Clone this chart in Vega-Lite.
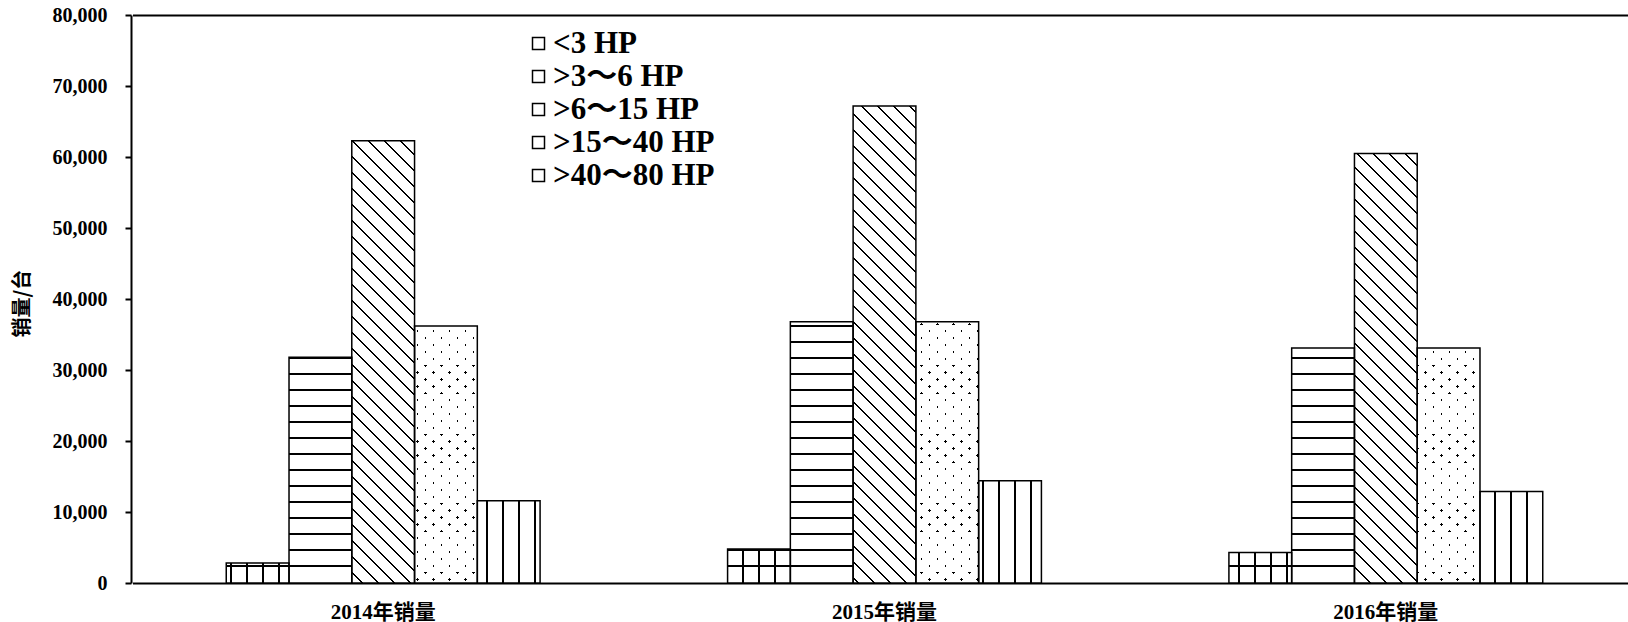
{
"$schema":"https://vega.github.io/schema/vega-lite/v6.json",
"width":1497,"height":568,
"autosize":{"type":"none"},
"padding":{"left":131,"top":15,"right":0,"bottom":39},
"config":{"view":{"stroke":null},"font":"Liberation Serif"},
"data":{"values":[
{"year":"2014年销量","cat":"<3 HP","v":2800},
{"year":"2014年销量","cat":">3～6 HP","v":31800},
{"year":"2014年销量","cat":">6～15 HP","v":62300},
{"year":"2014年销量","cat":">15～40 HP","v":36200},
{"year":"2014年销量","cat":">40～80 HP","v":11600},
{"year":"2015年销量","cat":"<3 HP","v":4800},
{"year":"2015年销量","cat":">3～6 HP","v":36800},
{"year":"2015年销量","cat":">6～15 HP","v":67200},
{"year":"2015年销量","cat":">15～40 HP","v":36800},
{"year":"2015年销量","cat":">40～80 HP","v":14400},
{"year":"2016年销量","cat":"<3 HP","v":4300},
{"year":"2016年销量","cat":">3～6 HP","v":33100},
{"year":"2016年销量","cat":">6～15 HP","v":60500},
{"year":"2016年销量","cat":">15～40 HP","v":33100},
{"year":"2016年销量","cat":">40～80 HP","v":12900}
]},
"encoding":{
"x":{"field":"year","type":"nominal","scale":{"domain":["2014年销量","2015年销量","2016年销量"],"range":[1.5,1505.5],"paddingInner":0.374,"paddingOuter":0.187},
"axis":{"title":null,"labelAngle":0,"ticks":false,"labelPadding":18,"labelFontSize":21,"labelFontWeight":"bold","labelFont":"Liberation Serif, Noto Sans CJK SC","labelColor":"black","domainColor":"black","domainWidth":2}},
"xOffset":{"field":"cat","type":"nominal","scale":{"domain":["<3 HP",">3～6 HP",">6～15 HP",">15～40 HP",">40～80 HP"]}},
"y":{"field":"v","type":"quantitative","scale":{"domain":[0,80000],"nice":false},
"axis":{"title":"销量/台","titleFont":"Noto Sans CJK SC","titleFontSize":20,"titleFontWeight":"bold","titleColor":"black","titleX":-99,"titleY":288,
"values":[0,10000,20000,30000,40000,50000,60000,70000,80000],"format":",d","labelFont":"Liberation Serif","labelFontSize":20,"labelFontWeight":"bold","labelColor":"black","labelPadding":18,"tickSize":6,"tickColor":"black","tickWidth":2,"domainColor":"black","domainWidth":2,
"grid":true,"gridColor":"black","gridWidth":2,"gridOpacity":{"condition":{"test":"datum.value === 80000","value":1},"value":0}}}
},
"layer":[
{"mark":{"type":"bar"},"encoding":{"fill":{"field":"cat","type":"nominal","scale":{"domain":["<3 HP",">3～6 HP",">6～15 HP",">15～40 HP",">40～80 HP"],"range":["white","white","white","white","white"]},
"legend":{"title":null,"orient":"none","legendX":392,"legendY":13,"symbolType":"square","symbolSize":144,"symbolStrokeColor":"black","symbolStrokeWidth":1.5,"labelFont":"Liberation Serif, Noto Sans CJK SC","labelFontSize":31,"labelFontWeight":"bold","labelColor":"black","labelOffset":-1,"rowPadding":1,"padding":0,"labelLimit":0}}}},

{"transform":[{"filter":"datum.year==='2014年销量' && datum.cat==='<3 HP'"}],"mark":{"type":"bar","fill":{"gradient":"linear","x1":-0.047,"y1":0,"x2":1.4825,"y2":0,"stops":[{"offset":0,"color":"transparent"},{"offset":0.0744,"color":"transparent"},{"offset":0.0744,"color":"black"},{"offset":0.0922,"color":"black"},{"offset":0.0922,"color":"transparent"},{"offset":0.2411,"color":"transparent"},{"offset":0.2411,"color":"black"},{"offset":0.2589,"color":"black"},{"offset":0.2589,"color":"transparent"},{"offset":0.4078,"color":"transparent"},{"offset":0.4078,"color":"black"},{"offset":0.4256,"color":"black"},{"offset":0.4256,"color":"transparent"},{"offset":0.5744,"color":"transparent"},{"offset":0.5744,"color":"black"},{"offset":0.5922,"color":"black"},{"offset":0.5922,"color":"transparent"},{"offset":0.7411,"color":"transparent"},{"offset":0.7411,"color":"black"},{"offset":0.7589,"color":"black"},{"offset":0.7589,"color":"transparent"},{"offset":0.9078,"color":"transparent"},{"offset":0.9078,"color":"black"},{"offset":0.9256,"color":"black"},{"offset":0.9256,"color":"transparent"},{"offset":1,"color":"transparent"}]}}},
{"transform":[{"filter":"datum.year==='2015年销量' && datum.cat==='<3 HP'"}],"mark":{"type":"bar","fill":{"gradient":"linear","x1":-0.1319,"y1":0,"x2":1.3976,"y2":0,"stops":[{"offset":0,"color":"transparent"},{"offset":0.0744,"color":"transparent"},{"offset":0.0744,"color":"black"},{"offset":0.0922,"color":"black"},{"offset":0.0922,"color":"transparent"},{"offset":0.2411,"color":"transparent"},{"offset":0.2411,"color":"black"},{"offset":0.2589,"color":"black"},{"offset":0.2589,"color":"transparent"},{"offset":0.4078,"color":"transparent"},{"offset":0.4078,"color":"black"},{"offset":0.4256,"color":"black"},{"offset":0.4256,"color":"transparent"},{"offset":0.5744,"color":"transparent"},{"offset":0.5744,"color":"black"},{"offset":0.5922,"color":"black"},{"offset":0.5922,"color":"transparent"},{"offset":0.7411,"color":"transparent"},{"offset":0.7411,"color":"black"},{"offset":0.7589,"color":"black"},{"offset":0.7589,"color":"transparent"},{"offset":0.9078,"color":"transparent"},{"offset":0.9078,"color":"black"},{"offset":0.9256,"color":"black"},{"offset":0.9256,"color":"transparent"},{"offset":1,"color":"transparent"}]}}},
{"transform":[{"filter":"datum.year==='2016年销量' && datum.cat==='<3 HP'"}],"mark":{"type":"bar","fill":{"gradient":"linear","x1":-0.217,"y1":0,"x2":1.3125,"y2":0,"stops":[{"offset":0,"color":"transparent"},{"offset":0.0744,"color":"transparent"},{"offset":0.0744,"color":"black"},{"offset":0.0922,"color":"black"},{"offset":0.0922,"color":"transparent"},{"offset":0.2411,"color":"transparent"},{"offset":0.2411,"color":"black"},{"offset":0.2589,"color":"black"},{"offset":0.2589,"color":"transparent"},{"offset":0.4078,"color":"transparent"},{"offset":0.4078,"color":"black"},{"offset":0.4256,"color":"black"},{"offset":0.4256,"color":"transparent"},{"offset":0.5744,"color":"transparent"},{"offset":0.5744,"color":"black"},{"offset":0.5922,"color":"black"},{"offset":0.5922,"color":"transparent"},{"offset":0.7411,"color":"transparent"},{"offset":0.7411,"color":"black"},{"offset":0.7589,"color":"black"},{"offset":0.7589,"color":"transparent"},{"offset":0.9078,"color":"transparent"},{"offset":0.9078,"color":"black"},{"offset":0.9256,"color":"black"},{"offset":0.9256,"color":"transparent"},{"offset":1,"color":"transparent"}]}}},

{"transform":[{"filter":"datum.year==='2014年销量' && datum.cat==='<3 HP'"}],"mark":{"type":"bar","fill":{"gradient":"linear","x1":0,"y1":0.54728,"x2":0,"y2":-2.67203,"stops":[{"offset":0,"color":"transparent"},{"offset":0.1117,"color":"transparent"},{"offset":0.1117,"color":"black"},{"offset":0.1383,"color":"black"},{"offset":0.1383,"color":"transparent"},{"offset":0.3617,"color":"transparent"},{"offset":0.3617,"color":"black"},{"offset":0.3883,"color":"black"},{"offset":0.3883,"color":"transparent"},{"offset":0.6117,"color":"transparent"},{"offset":0.6117,"color":"black"},{"offset":0.6383,"color":"black"},{"offset":0.6383,"color":"transparent"},{"offset":0.8617,"color":"transparent"},{"offset":0.8617,"color":"black"},{"offset":0.8883,"color":"black"},{"offset":0.8883,"color":"transparent"},{"offset":1,"color":"transparent"}]}}},
{"transform":[{"filter":"datum.year==='2015年销量' && datum.cat==='<3 HP'"}],"mark":{"type":"bar","fill":{"gradient":"linear","x1":0,"y1":0.73592,"x2":0,"y2":-1.14202,"stops":[{"offset":0,"color":"transparent"},{"offset":0.1117,"color":"transparent"},{"offset":0.1117,"color":"black"},{"offset":0.1383,"color":"black"},{"offset":0.1383,"color":"transparent"},{"offset":0.3617,"color":"transparent"},{"offset":0.3617,"color":"black"},{"offset":0.3883,"color":"black"},{"offset":0.3883,"color":"transparent"},{"offset":0.6117,"color":"transparent"},{"offset":0.6117,"color":"black"},{"offset":0.6383,"color":"black"},{"offset":0.6383,"color":"transparent"},{"offset":0.8617,"color":"transparent"},{"offset":0.8617,"color":"black"},{"offset":0.8883,"color":"black"},{"offset":0.8883,"color":"transparent"},{"offset":1,"color":"transparent"}]}}},
{"transform":[{"filter":"datum.year==='2016年销量' && datum.cat==='<3 HP'"}],"mark":{"type":"bar","fill":{"gradient":"linear","x1":0,"y1":0.70521,"x2":0,"y2":-1.39109,"stops":[{"offset":0,"color":"transparent"},{"offset":0.1117,"color":"transparent"},{"offset":0.1117,"color":"black"},{"offset":0.1383,"color":"black"},{"offset":0.1383,"color":"transparent"},{"offset":0.3617,"color":"transparent"},{"offset":0.3617,"color":"black"},{"offset":0.3883,"color":"black"},{"offset":0.3883,"color":"transparent"},{"offset":0.6117,"color":"transparent"},{"offset":0.6117,"color":"black"},{"offset":0.6383,"color":"black"},{"offset":0.6383,"color":"transparent"},{"offset":0.8617,"color":"transparent"},{"offset":0.8617,"color":"black"},{"offset":0.8883,"color":"black"},{"offset":0.8883,"color":"transparent"},{"offset":1,"color":"transparent"}]}}},

{"transform":[{"filter":"datum.year==='2014年销量' && datum.cat==='>3～6 HP'"}],"mark":{"type":"bar","fill":{"gradient":"linear","x1":0,"y1":0.96014,"x2":0,"y2":-0.31544,"stops":[{"offset":0,"color":"transparent"},{"offset":0.0248,"color":"transparent"},{"offset":0.0248,"color":"black"},{"offset":0.0308,"color":"black"},{"offset":0.0308,"color":"transparent"},{"offset":0.0803,"color":"transparent"},{"offset":0.0803,"color":"black"},{"offset":0.0863,"color":"black"},{"offset":0.0863,"color":"transparent"},{"offset":0.1359,"color":"transparent"},{"offset":0.1359,"color":"black"},{"offset":0.1419,"color":"black"},{"offset":0.1419,"color":"transparent"},{"offset":0.1914,"color":"transparent"},{"offset":0.1914,"color":"black"},{"offset":0.1974,"color":"black"},{"offset":0.1974,"color":"transparent"},{"offset":0.247,"color":"transparent"},{"offset":0.247,"color":"black"},{"offset":0.253,"color":"black"},{"offset":0.253,"color":"transparent"},{"offset":0.3026,"color":"transparent"},{"offset":0.3026,"color":"black"},{"offset":0.3086,"color":"black"},{"offset":0.3086,"color":"transparent"},{"offset":0.3581,"color":"transparent"},{"offset":0.3581,"color":"black"},{"offset":0.3641,"color":"black"},{"offset":0.3641,"color":"transparent"},{"offset":0.4137,"color":"transparent"},{"offset":0.4137,"color":"black"},{"offset":0.4197,"color":"black"},{"offset":0.4197,"color":"transparent"},{"offset":0.4692,"color":"transparent"},{"offset":0.4692,"color":"black"},{"offset":0.4752,"color":"black"},{"offset":0.4752,"color":"transparent"},{"offset":0.5248,"color":"transparent"},{"offset":0.5248,"color":"black"},{"offset":0.5308,"color":"black"},{"offset":0.5308,"color":"transparent"},{"offset":0.5803,"color":"transparent"},{"offset":0.5803,"color":"black"},{"offset":0.5863,"color":"black"},{"offset":0.5863,"color":"transparent"},{"offset":0.6359,"color":"transparent"},{"offset":0.6359,"color":"black"},{"offset":0.6419,"color":"black"},{"offset":0.6419,"color":"transparent"},{"offset":0.6914,"color":"transparent"},{"offset":0.6914,"color":"black"},{"offset":0.6974,"color":"black"},{"offset":0.6974,"color":"transparent"},{"offset":0.747,"color":"transparent"},{"offset":0.747,"color":"black"},{"offset":0.753,"color":"black"},{"offset":0.753,"color":"transparent"},{"offset":0.8026,"color":"transparent"},{"offset":0.8026,"color":"black"},{"offset":0.8086,"color":"black"},{"offset":0.8086,"color":"transparent"},{"offset":0.8581,"color":"transparent"},{"offset":0.8581,"color":"black"},{"offset":0.8641,"color":"black"},{"offset":0.8641,"color":"transparent"},{"offset":0.9137,"color":"transparent"},{"offset":0.9137,"color":"black"},{"offset":0.9197,"color":"black"},{"offset":0.9197,"color":"transparent"},{"offset":0.9692,"color":"transparent"},{"offset":0.9692,"color":"black"},{"offset":0.9752,"color":"black"},{"offset":0.9752,"color":"transparent"},{"offset":1,"color":"transparent"}]}}},
{"transform":[{"filter":"datum.year==='2015年销量' && datum.cat==='>3～6 HP'"}],"mark":{"type":"bar","fill":{"gradient":"linear","x1":0,"y1":0.96555,"x2":0,"y2":-0.13671,"stops":[{"offset":0,"color":"transparent"},{"offset":0.0248,"color":"transparent"},{"offset":0.0248,"color":"black"},{"offset":0.0308,"color":"black"},{"offset":0.0308,"color":"transparent"},{"offset":0.0803,"color":"transparent"},{"offset":0.0803,"color":"black"},{"offset":0.0863,"color":"black"},{"offset":0.0863,"color":"transparent"},{"offset":0.1359,"color":"transparent"},{"offset":0.1359,"color":"black"},{"offset":0.1419,"color":"black"},{"offset":0.1419,"color":"transparent"},{"offset":0.1914,"color":"transparent"},{"offset":0.1914,"color":"black"},{"offset":0.1974,"color":"black"},{"offset":0.1974,"color":"transparent"},{"offset":0.247,"color":"transparent"},{"offset":0.247,"color":"black"},{"offset":0.253,"color":"black"},{"offset":0.253,"color":"transparent"},{"offset":0.3026,"color":"transparent"},{"offset":0.3026,"color":"black"},{"offset":0.3086,"color":"black"},{"offset":0.3086,"color":"transparent"},{"offset":0.3581,"color":"transparent"},{"offset":0.3581,"color":"black"},{"offset":0.3641,"color":"black"},{"offset":0.3641,"color":"transparent"},{"offset":0.4137,"color":"transparent"},{"offset":0.4137,"color":"black"},{"offset":0.4197,"color":"black"},{"offset":0.4197,"color":"transparent"},{"offset":0.4692,"color":"transparent"},{"offset":0.4692,"color":"black"},{"offset":0.4752,"color":"black"},{"offset":0.4752,"color":"transparent"},{"offset":0.5248,"color":"transparent"},{"offset":0.5248,"color":"black"},{"offset":0.5308,"color":"black"},{"offset":0.5308,"color":"transparent"},{"offset":0.5803,"color":"transparent"},{"offset":0.5803,"color":"black"},{"offset":0.5863,"color":"black"},{"offset":0.5863,"color":"transparent"},{"offset":0.6359,"color":"transparent"},{"offset":0.6359,"color":"black"},{"offset":0.6419,"color":"black"},{"offset":0.6419,"color":"transparent"},{"offset":0.6914,"color":"transparent"},{"offset":0.6914,"color":"black"},{"offset":0.6974,"color":"black"},{"offset":0.6974,"color":"transparent"},{"offset":0.747,"color":"transparent"},{"offset":0.747,"color":"black"},{"offset":0.753,"color":"black"},{"offset":0.753,"color":"transparent"},{"offset":0.8026,"color":"transparent"},{"offset":0.8026,"color":"black"},{"offset":0.8086,"color":"black"},{"offset":0.8086,"color":"transparent"},{"offset":0.8581,"color":"transparent"},{"offset":0.8581,"color":"black"},{"offset":0.8641,"color":"black"},{"offset":0.8641,"color":"transparent"},{"offset":0.9137,"color":"transparent"},{"offset":0.9137,"color":"black"},{"offset":0.9197,"color":"black"},{"offset":0.9197,"color":"transparent"},{"offset":0.9692,"color":"transparent"},{"offset":0.9692,"color":"black"},{"offset":0.9752,"color":"black"},{"offset":0.9752,"color":"transparent"},{"offset":1,"color":"transparent"}]}}},
{"transform":[{"filter":"datum.year==='2016年销量' && datum.cat==='>3～6 HP'"}],"mark":{"type":"bar","fill":{"gradient":"linear","x1":0,"y1":0.9617,"x2":0,"y2":-0.26378,"stops":[{"offset":0,"color":"transparent"},{"offset":0.0248,"color":"transparent"},{"offset":0.0248,"color":"black"},{"offset":0.0308,"color":"black"},{"offset":0.0308,"color":"transparent"},{"offset":0.0803,"color":"transparent"},{"offset":0.0803,"color":"black"},{"offset":0.0863,"color":"black"},{"offset":0.0863,"color":"transparent"},{"offset":0.1359,"color":"transparent"},{"offset":0.1359,"color":"black"},{"offset":0.1419,"color":"black"},{"offset":0.1419,"color":"transparent"},{"offset":0.1914,"color":"transparent"},{"offset":0.1914,"color":"black"},{"offset":0.1974,"color":"black"},{"offset":0.1974,"color":"transparent"},{"offset":0.247,"color":"transparent"},{"offset":0.247,"color":"black"},{"offset":0.253,"color":"black"},{"offset":0.253,"color":"transparent"},{"offset":0.3026,"color":"transparent"},{"offset":0.3026,"color":"black"},{"offset":0.3086,"color":"black"},{"offset":0.3086,"color":"transparent"},{"offset":0.3581,"color":"transparent"},{"offset":0.3581,"color":"black"},{"offset":0.3641,"color":"black"},{"offset":0.3641,"color":"transparent"},{"offset":0.4137,"color":"transparent"},{"offset":0.4137,"color":"black"},{"offset":0.4197,"color":"black"},{"offset":0.4197,"color":"transparent"},{"offset":0.4692,"color":"transparent"},{"offset":0.4692,"color":"black"},{"offset":0.4752,"color":"black"},{"offset":0.4752,"color":"transparent"},{"offset":0.5248,"color":"transparent"},{"offset":0.5248,"color":"black"},{"offset":0.5308,"color":"black"},{"offset":0.5308,"color":"transparent"},{"offset":0.5803,"color":"transparent"},{"offset":0.5803,"color":"black"},{"offset":0.5863,"color":"black"},{"offset":0.5863,"color":"transparent"},{"offset":0.6359,"color":"transparent"},{"offset":0.6359,"color":"black"},{"offset":0.6419,"color":"black"},{"offset":0.6419,"color":"transparent"},{"offset":0.6914,"color":"transparent"},{"offset":0.6914,"color":"black"},{"offset":0.6974,"color":"black"},{"offset":0.6974,"color":"transparent"},{"offset":0.747,"color":"transparent"},{"offset":0.747,"color":"black"},{"offset":0.753,"color":"black"},{"offset":0.753,"color":"transparent"},{"offset":0.8026,"color":"transparent"},{"offset":0.8026,"color":"black"},{"offset":0.8086,"color":"black"},{"offset":0.8086,"color":"transparent"},{"offset":0.8581,"color":"transparent"},{"offset":0.8581,"color":"black"},{"offset":0.8641,"color":"black"},{"offset":0.8641,"color":"transparent"},{"offset":0.9137,"color":"transparent"},{"offset":0.9137,"color":"black"},{"offset":0.9197,"color":"black"},{"offset":0.9197,"color":"transparent"},{"offset":0.9692,"color":"transparent"},{"offset":0.9692,"color":"black"},{"offset":0.9752,"color":"black"},{"offset":0.9752,"color":"transparent"},{"offset":1,"color":"transparent"}]}}},

{"transform":[{"filter":"datum.year==='2014年销量' && datum.cat==='>6～15 HP'"}],"mark":{"type":"bar","fill":{"gradient":"linear","x1":0,"y1":1.03002,"x2":0.18113,"y2":-0.24648,"stops":[{"offset":0,"color":"transparent"},{"offset":0.0115,"color":"transparent"},{"offset":0.0115,"color":"black"},{"offset":0.0163,"color":"black"},{"offset":0.0163,"color":"transparent"},{"offset":0.0393,"color":"transparent"},{"offset":0.0393,"color":"black"},{"offset":0.0441,"color":"black"},{"offset":0.0441,"color":"transparent"},{"offset":0.067,"color":"transparent"},{"offset":0.067,"color":"black"},{"offset":0.0718,"color":"black"},{"offset":0.0718,"color":"transparent"},{"offset":0.0948,"color":"transparent"},{"offset":0.0948,"color":"black"},{"offset":0.0996,"color":"black"},{"offset":0.0996,"color":"transparent"},{"offset":0.1226,"color":"transparent"},{"offset":0.1226,"color":"black"},{"offset":0.1274,"color":"black"},{"offset":0.1274,"color":"transparent"},{"offset":0.1504,"color":"transparent"},{"offset":0.1504,"color":"black"},{"offset":0.1552,"color":"black"},{"offset":0.1552,"color":"transparent"},{"offset":0.1782,"color":"transparent"},{"offset":0.1782,"color":"black"},{"offset":0.183,"color":"black"},{"offset":0.183,"color":"transparent"},{"offset":0.2059,"color":"transparent"},{"offset":0.2059,"color":"black"},{"offset":0.2107,"color":"black"},{"offset":0.2107,"color":"transparent"},{"offset":0.2337,"color":"transparent"},{"offset":0.2337,"color":"black"},{"offset":0.2385,"color":"black"},{"offset":0.2385,"color":"transparent"},{"offset":0.2615,"color":"transparent"},{"offset":0.2615,"color":"black"},{"offset":0.2663,"color":"black"},{"offset":0.2663,"color":"transparent"},{"offset":0.2893,"color":"transparent"},{"offset":0.2893,"color":"black"},{"offset":0.2941,"color":"black"},{"offset":0.2941,"color":"transparent"},{"offset":0.317,"color":"transparent"},{"offset":0.317,"color":"black"},{"offset":0.3218,"color":"black"},{"offset":0.3218,"color":"transparent"},{"offset":0.3448,"color":"transparent"},{"offset":0.3448,"color":"black"},{"offset":0.3496,"color":"black"},{"offset":0.3496,"color":"transparent"},{"offset":0.3726,"color":"transparent"},{"offset":0.3726,"color":"black"},{"offset":0.3774,"color":"black"},{"offset":0.3774,"color":"transparent"},{"offset":0.4004,"color":"transparent"},{"offset":0.4004,"color":"black"},{"offset":0.4052,"color":"black"},{"offset":0.4052,"color":"transparent"},{"offset":0.4282,"color":"transparent"},{"offset":0.4282,"color":"black"},{"offset":0.433,"color":"black"},{"offset":0.433,"color":"transparent"},{"offset":0.4559,"color":"transparent"},{"offset":0.4559,"color":"black"},{"offset":0.4607,"color":"black"},{"offset":0.4607,"color":"transparent"},{"offset":0.4837,"color":"transparent"},{"offset":0.4837,"color":"black"},{"offset":0.4885,"color":"black"},{"offset":0.4885,"color":"transparent"},{"offset":0.5115,"color":"transparent"},{"offset":0.5115,"color":"black"},{"offset":0.5163,"color":"black"},{"offset":0.5163,"color":"transparent"},{"offset":0.5393,"color":"transparent"},{"offset":0.5393,"color":"black"},{"offset":0.5441,"color":"black"},{"offset":0.5441,"color":"transparent"},{"offset":0.567,"color":"transparent"},{"offset":0.567,"color":"black"},{"offset":0.5718,"color":"black"},{"offset":0.5718,"color":"transparent"},{"offset":0.5948,"color":"transparent"},{"offset":0.5948,"color":"black"},{"offset":0.5996,"color":"black"},{"offset":0.5996,"color":"transparent"},{"offset":0.6226,"color":"transparent"},{"offset":0.6226,"color":"black"},{"offset":0.6274,"color":"black"},{"offset":0.6274,"color":"transparent"},{"offset":0.6504,"color":"transparent"},{"offset":0.6504,"color":"black"},{"offset":0.6552,"color":"black"},{"offset":0.6552,"color":"transparent"},{"offset":0.6782,"color":"transparent"},{"offset":0.6782,"color":"black"},{"offset":0.683,"color":"black"},{"offset":0.683,"color":"transparent"},{"offset":0.7059,"color":"transparent"},{"offset":0.7059,"color":"black"},{"offset":0.7107,"color":"black"},{"offset":0.7107,"color":"transparent"},{"offset":0.7337,"color":"transparent"},{"offset":0.7337,"color":"black"},{"offset":0.7385,"color":"black"},{"offset":0.7385,"color":"transparent"},{"offset":0.7615,"color":"transparent"},{"offset":0.7615,"color":"black"},{"offset":0.7663,"color":"black"},{"offset":0.7663,"color":"transparent"},{"offset":0.7893,"color":"transparent"},{"offset":0.7893,"color":"black"},{"offset":0.7941,"color":"black"},{"offset":0.7941,"color":"transparent"},{"offset":0.817,"color":"transparent"},{"offset":0.817,"color":"black"},{"offset":0.8218,"color":"black"},{"offset":0.8218,"color":"transparent"},{"offset":0.8448,"color":"transparent"},{"offset":0.8448,"color":"black"},{"offset":0.8496,"color":"black"},{"offset":0.8496,"color":"transparent"},{"offset":0.8726,"color":"transparent"},{"offset":0.8726,"color":"black"},{"offset":0.8774,"color":"black"},{"offset":0.8774,"color":"transparent"},{"offset":0.9004,"color":"transparent"},{"offset":0.9004,"color":"black"},{"offset":0.9052,"color":"black"},{"offset":0.9052,"color":"transparent"},{"offset":0.9282,"color":"transparent"},{"offset":0.9282,"color":"black"},{"offset":0.933,"color":"black"},{"offset":0.933,"color":"transparent"},{"offset":0.9559,"color":"transparent"},{"offset":0.9559,"color":"black"},{"offset":0.9607,"color":"black"},{"offset":0.9607,"color":"transparent"},{"offset":0.9837,"color":"transparent"},{"offset":0.9837,"color":"black"},{"offset":0.9885,"color":"black"},{"offset":0.9885,"color":"transparent"},{"offset":1,"color":"transparent"}]}}},
{"transform":[{"filter":"datum.year==='2015年销量' && datum.cat==='>6～15 HP'"}],"mark":{"type":"bar","fill":{"gradient":"linear","x1":0,"y1":1.00549,"x2":0.15612,"y2":-0.18121,"stops":[{"offset":0,"color":"transparent"},{"offset":0.0115,"color":"transparent"},{"offset":0.0115,"color":"black"},{"offset":0.0163,"color":"black"},{"offset":0.0163,"color":"transparent"},{"offset":0.0393,"color":"transparent"},{"offset":0.0393,"color":"black"},{"offset":0.0441,"color":"black"},{"offset":0.0441,"color":"transparent"},{"offset":0.067,"color":"transparent"},{"offset":0.067,"color":"black"},{"offset":0.0718,"color":"black"},{"offset":0.0718,"color":"transparent"},{"offset":0.0948,"color":"transparent"},{"offset":0.0948,"color":"black"},{"offset":0.0996,"color":"black"},{"offset":0.0996,"color":"transparent"},{"offset":0.1226,"color":"transparent"},{"offset":0.1226,"color":"black"},{"offset":0.1274,"color":"black"},{"offset":0.1274,"color":"transparent"},{"offset":0.1504,"color":"transparent"},{"offset":0.1504,"color":"black"},{"offset":0.1552,"color":"black"},{"offset":0.1552,"color":"transparent"},{"offset":0.1782,"color":"transparent"},{"offset":0.1782,"color":"black"},{"offset":0.183,"color":"black"},{"offset":0.183,"color":"transparent"},{"offset":0.2059,"color":"transparent"},{"offset":0.2059,"color":"black"},{"offset":0.2107,"color":"black"},{"offset":0.2107,"color":"transparent"},{"offset":0.2337,"color":"transparent"},{"offset":0.2337,"color":"black"},{"offset":0.2385,"color":"black"},{"offset":0.2385,"color":"transparent"},{"offset":0.2615,"color":"transparent"},{"offset":0.2615,"color":"black"},{"offset":0.2663,"color":"black"},{"offset":0.2663,"color":"transparent"},{"offset":0.2893,"color":"transparent"},{"offset":0.2893,"color":"black"},{"offset":0.2941,"color":"black"},{"offset":0.2941,"color":"transparent"},{"offset":0.317,"color":"transparent"},{"offset":0.317,"color":"black"},{"offset":0.3218,"color":"black"},{"offset":0.3218,"color":"transparent"},{"offset":0.3448,"color":"transparent"},{"offset":0.3448,"color":"black"},{"offset":0.3496,"color":"black"},{"offset":0.3496,"color":"transparent"},{"offset":0.3726,"color":"transparent"},{"offset":0.3726,"color":"black"},{"offset":0.3774,"color":"black"},{"offset":0.3774,"color":"transparent"},{"offset":0.4004,"color":"transparent"},{"offset":0.4004,"color":"black"},{"offset":0.4052,"color":"black"},{"offset":0.4052,"color":"transparent"},{"offset":0.4282,"color":"transparent"},{"offset":0.4282,"color":"black"},{"offset":0.433,"color":"black"},{"offset":0.433,"color":"transparent"},{"offset":0.4559,"color":"transparent"},{"offset":0.4559,"color":"black"},{"offset":0.4607,"color":"black"},{"offset":0.4607,"color":"transparent"},{"offset":0.4837,"color":"transparent"},{"offset":0.4837,"color":"black"},{"offset":0.4885,"color":"black"},{"offset":0.4885,"color":"transparent"},{"offset":0.5115,"color":"transparent"},{"offset":0.5115,"color":"black"},{"offset":0.5163,"color":"black"},{"offset":0.5163,"color":"transparent"},{"offset":0.5393,"color":"transparent"},{"offset":0.5393,"color":"black"},{"offset":0.5441,"color":"black"},{"offset":0.5441,"color":"transparent"},{"offset":0.567,"color":"transparent"},{"offset":0.567,"color":"black"},{"offset":0.5718,"color":"black"},{"offset":0.5718,"color":"transparent"},{"offset":0.5948,"color":"transparent"},{"offset":0.5948,"color":"black"},{"offset":0.5996,"color":"black"},{"offset":0.5996,"color":"transparent"},{"offset":0.6226,"color":"transparent"},{"offset":0.6226,"color":"black"},{"offset":0.6274,"color":"black"},{"offset":0.6274,"color":"transparent"},{"offset":0.6504,"color":"transparent"},{"offset":0.6504,"color":"black"},{"offset":0.6552,"color":"black"},{"offset":0.6552,"color":"transparent"},{"offset":0.6782,"color":"transparent"},{"offset":0.6782,"color":"black"},{"offset":0.683,"color":"black"},{"offset":0.683,"color":"transparent"},{"offset":0.7059,"color":"transparent"},{"offset":0.7059,"color":"black"},{"offset":0.7107,"color":"black"},{"offset":0.7107,"color":"transparent"},{"offset":0.7337,"color":"transparent"},{"offset":0.7337,"color":"black"},{"offset":0.7385,"color":"black"},{"offset":0.7385,"color":"transparent"},{"offset":0.7615,"color":"transparent"},{"offset":0.7615,"color":"black"},{"offset":0.7663,"color":"black"},{"offset":0.7663,"color":"transparent"},{"offset":0.7893,"color":"transparent"},{"offset":0.7893,"color":"black"},{"offset":0.7941,"color":"black"},{"offset":0.7941,"color":"transparent"},{"offset":0.817,"color":"transparent"},{"offset":0.817,"color":"black"},{"offset":0.8218,"color":"black"},{"offset":0.8218,"color":"transparent"},{"offset":0.8448,"color":"transparent"},{"offset":0.8448,"color":"black"},{"offset":0.8496,"color":"black"},{"offset":0.8496,"color":"transparent"},{"offset":0.8726,"color":"transparent"},{"offset":0.8726,"color":"black"},{"offset":0.8774,"color":"black"},{"offset":0.8774,"color":"transparent"},{"offset":0.9004,"color":"transparent"},{"offset":0.9004,"color":"black"},{"offset":0.9052,"color":"black"},{"offset":0.9052,"color":"transparent"},{"offset":0.9282,"color":"transparent"},{"offset":0.9282,"color":"black"},{"offset":0.933,"color":"black"},{"offset":0.933,"color":"transparent"},{"offset":0.9559,"color":"transparent"},{"offset":0.9559,"color":"black"},{"offset":0.9607,"color":"black"},{"offset":0.9607,"color":"transparent"},{"offset":0.9837,"color":"transparent"},{"offset":0.9837,"color":"black"},{"offset":0.9885,"color":"black"},{"offset":0.9885,"color":"transparent"},{"offset":1,"color":"transparent"}]}}},
{"transform":[{"filter":"datum.year==='2016年销量' && datum.cat==='>6～15 HP'"}],"mark":{"type":"bar","fill":{"gradient":"linear","x1":0,"y1":1.01851,"x2":0.19185,"y2":-0.29441,"stops":[{"offset":0,"color":"transparent"},{"offset":0.0115,"color":"transparent"},{"offset":0.0115,"color":"black"},{"offset":0.0163,"color":"black"},{"offset":0.0163,"color":"transparent"},{"offset":0.0393,"color":"transparent"},{"offset":0.0393,"color":"black"},{"offset":0.0441,"color":"black"},{"offset":0.0441,"color":"transparent"},{"offset":0.067,"color":"transparent"},{"offset":0.067,"color":"black"},{"offset":0.0718,"color":"black"},{"offset":0.0718,"color":"transparent"},{"offset":0.0948,"color":"transparent"},{"offset":0.0948,"color":"black"},{"offset":0.0996,"color":"black"},{"offset":0.0996,"color":"transparent"},{"offset":0.1226,"color":"transparent"},{"offset":0.1226,"color":"black"},{"offset":0.1274,"color":"black"},{"offset":0.1274,"color":"transparent"},{"offset":0.1504,"color":"transparent"},{"offset":0.1504,"color":"black"},{"offset":0.1552,"color":"black"},{"offset":0.1552,"color":"transparent"},{"offset":0.1782,"color":"transparent"},{"offset":0.1782,"color":"black"},{"offset":0.183,"color":"black"},{"offset":0.183,"color":"transparent"},{"offset":0.2059,"color":"transparent"},{"offset":0.2059,"color":"black"},{"offset":0.2107,"color":"black"},{"offset":0.2107,"color":"transparent"},{"offset":0.2337,"color":"transparent"},{"offset":0.2337,"color":"black"},{"offset":0.2385,"color":"black"},{"offset":0.2385,"color":"transparent"},{"offset":0.2615,"color":"transparent"},{"offset":0.2615,"color":"black"},{"offset":0.2663,"color":"black"},{"offset":0.2663,"color":"transparent"},{"offset":0.2893,"color":"transparent"},{"offset":0.2893,"color":"black"},{"offset":0.2941,"color":"black"},{"offset":0.2941,"color":"transparent"},{"offset":0.317,"color":"transparent"},{"offset":0.317,"color":"black"},{"offset":0.3218,"color":"black"},{"offset":0.3218,"color":"transparent"},{"offset":0.3448,"color":"transparent"},{"offset":0.3448,"color":"black"},{"offset":0.3496,"color":"black"},{"offset":0.3496,"color":"transparent"},{"offset":0.3726,"color":"transparent"},{"offset":0.3726,"color":"black"},{"offset":0.3774,"color":"black"},{"offset":0.3774,"color":"transparent"},{"offset":0.4004,"color":"transparent"},{"offset":0.4004,"color":"black"},{"offset":0.4052,"color":"black"},{"offset":0.4052,"color":"transparent"},{"offset":0.4282,"color":"transparent"},{"offset":0.4282,"color":"black"},{"offset":0.433,"color":"black"},{"offset":0.433,"color":"transparent"},{"offset":0.4559,"color":"transparent"},{"offset":0.4559,"color":"black"},{"offset":0.4607,"color":"black"},{"offset":0.4607,"color":"transparent"},{"offset":0.4837,"color":"transparent"},{"offset":0.4837,"color":"black"},{"offset":0.4885,"color":"black"},{"offset":0.4885,"color":"transparent"},{"offset":0.5115,"color":"transparent"},{"offset":0.5115,"color":"black"},{"offset":0.5163,"color":"black"},{"offset":0.5163,"color":"transparent"},{"offset":0.5393,"color":"transparent"},{"offset":0.5393,"color":"black"},{"offset":0.5441,"color":"black"},{"offset":0.5441,"color":"transparent"},{"offset":0.567,"color":"transparent"},{"offset":0.567,"color":"black"},{"offset":0.5718,"color":"black"},{"offset":0.5718,"color":"transparent"},{"offset":0.5948,"color":"transparent"},{"offset":0.5948,"color":"black"},{"offset":0.5996,"color":"black"},{"offset":0.5996,"color":"transparent"},{"offset":0.6226,"color":"transparent"},{"offset":0.6226,"color":"black"},{"offset":0.6274,"color":"black"},{"offset":0.6274,"color":"transparent"},{"offset":0.6504,"color":"transparent"},{"offset":0.6504,"color":"black"},{"offset":0.6552,"color":"black"},{"offset":0.6552,"color":"transparent"},{"offset":0.6782,"color":"transparent"},{"offset":0.6782,"color":"black"},{"offset":0.683,"color":"black"},{"offset":0.683,"color":"transparent"},{"offset":0.7059,"color":"transparent"},{"offset":0.7059,"color":"black"},{"offset":0.7107,"color":"black"},{"offset":0.7107,"color":"transparent"},{"offset":0.7337,"color":"transparent"},{"offset":0.7337,"color":"black"},{"offset":0.7385,"color":"black"},{"offset":0.7385,"color":"transparent"},{"offset":0.7615,"color":"transparent"},{"offset":0.7615,"color":"black"},{"offset":0.7663,"color":"black"},{"offset":0.7663,"color":"transparent"},{"offset":0.7893,"color":"transparent"},{"offset":0.7893,"color":"black"},{"offset":0.7941,"color":"black"},{"offset":0.7941,"color":"transparent"},{"offset":0.817,"color":"transparent"},{"offset":0.817,"color":"black"},{"offset":0.8218,"color":"black"},{"offset":0.8218,"color":"transparent"},{"offset":0.8448,"color":"transparent"},{"offset":0.8448,"color":"black"},{"offset":0.8496,"color":"black"},{"offset":0.8496,"color":"transparent"},{"offset":0.8726,"color":"transparent"},{"offset":0.8726,"color":"black"},{"offset":0.8774,"color":"black"},{"offset":0.8774,"color":"transparent"},{"offset":0.9004,"color":"transparent"},{"offset":0.9004,"color":"black"},{"offset":0.9052,"color":"black"},{"offset":0.9052,"color":"transparent"},{"offset":0.9282,"color":"transparent"},{"offset":0.9282,"color":"black"},{"offset":0.933,"color":"black"},{"offset":0.933,"color":"transparent"},{"offset":0.9559,"color":"transparent"},{"offset":0.9559,"color":"black"},{"offset":0.9607,"color":"black"},{"offset":0.9607,"color":"transparent"},{"offset":0.9837,"color":"transparent"},{"offset":0.9837,"color":"black"},{"offset":0.9885,"color":"black"},{"offset":0.9885,"color":"transparent"},{"offset":1,"color":"transparent"}]}}},

{"transform":[{"filter":"datum.year==='2014年销量' && datum.cat==='>15～40 HP'"}],"mark":{"type":"bar","fill":{"gradient":"linear","x1":0,"y1":1.00377,"x2":0.27073,"y2":-0.28154,"stops":[{"offset":0,"color":"transparent"},{"offset":0.0167,"color":"transparent"},{"offset":0.0167,"color":"black"},{"offset":0.0233,"color":"black"},{"offset":0.0233,"color":"transparent"},{"offset":0.0567,"color":"transparent"},{"offset":0.0567,"color":"black"},{"offset":0.0633,"color":"black"},{"offset":0.0633,"color":"transparent"},{"offset":0.0967,"color":"transparent"},{"offset":0.0967,"color":"black"},{"offset":0.1033,"color":"black"},{"offset":0.1033,"color":"transparent"},{"offset":0.1367,"color":"transparent"},{"offset":0.1367,"color":"black"},{"offset":0.1433,"color":"black"},{"offset":0.1433,"color":"transparent"},{"offset":0.1767,"color":"transparent"},{"offset":0.1767,"color":"black"},{"offset":0.1833,"color":"black"},{"offset":0.1833,"color":"transparent"},{"offset":0.2167,"color":"transparent"},{"offset":0.2167,"color":"black"},{"offset":0.2233,"color":"black"},{"offset":0.2233,"color":"transparent"},{"offset":0.2567,"color":"transparent"},{"offset":0.2567,"color":"black"},{"offset":0.2633,"color":"black"},{"offset":0.2633,"color":"transparent"},{"offset":0.2967,"color":"transparent"},{"offset":0.2967,"color":"black"},{"offset":0.3033,"color":"black"},{"offset":0.3033,"color":"transparent"},{"offset":0.3367,"color":"transparent"},{"offset":0.3367,"color":"black"},{"offset":0.3433,"color":"black"},{"offset":0.3433,"color":"transparent"},{"offset":0.3767,"color":"transparent"},{"offset":0.3767,"color":"black"},{"offset":0.3833,"color":"black"},{"offset":0.3833,"color":"transparent"},{"offset":0.4167,"color":"transparent"},{"offset":0.4167,"color":"black"},{"offset":0.4233,"color":"black"},{"offset":0.4233,"color":"transparent"},{"offset":0.4567,"color":"transparent"},{"offset":0.4567,"color":"black"},{"offset":0.4633,"color":"black"},{"offset":0.4633,"color":"transparent"},{"offset":0.4967,"color":"transparent"},{"offset":0.4967,"color":"black"},{"offset":0.5033,"color":"black"},{"offset":0.5033,"color":"transparent"},{"offset":0.5367,"color":"transparent"},{"offset":0.5367,"color":"black"},{"offset":0.5433,"color":"black"},{"offset":0.5433,"color":"transparent"},{"offset":0.5767,"color":"transparent"},{"offset":0.5767,"color":"black"},{"offset":0.5833,"color":"black"},{"offset":0.5833,"color":"transparent"},{"offset":0.6167,"color":"transparent"},{"offset":0.6167,"color":"black"},{"offset":0.6233,"color":"black"},{"offset":0.6233,"color":"transparent"},{"offset":0.6567,"color":"transparent"},{"offset":0.6567,"color":"black"},{"offset":0.6633,"color":"black"},{"offset":0.6633,"color":"transparent"},{"offset":0.6967,"color":"transparent"},{"offset":0.6967,"color":"black"},{"offset":0.7033,"color":"black"},{"offset":0.7033,"color":"transparent"},{"offset":0.7367,"color":"transparent"},{"offset":0.7367,"color":"black"},{"offset":0.7433,"color":"black"},{"offset":0.7433,"color":"transparent"},{"offset":0.7767,"color":"transparent"},{"offset":0.7767,"color":"black"},{"offset":0.7833,"color":"black"},{"offset":0.7833,"color":"transparent"},{"offset":0.8167,"color":"transparent"},{"offset":0.8167,"color":"black"},{"offset":0.8233,"color":"black"},{"offset":0.8233,"color":"transparent"},{"offset":0.8567,"color":"transparent"},{"offset":0.8567,"color":"black"},{"offset":0.8633,"color":"black"},{"offset":0.8633,"color":"transparent"},{"offset":0.8967,"color":"transparent"},{"offset":0.8967,"color":"black"},{"offset":0.9033,"color":"black"},{"offset":0.9033,"color":"transparent"},{"offset":0.9367,"color":"transparent"},{"offset":0.9367,"color":"black"},{"offset":0.9433,"color":"black"},{"offset":0.9433,"color":"transparent"},{"offset":0.9767,"color":"transparent"},{"offset":0.9767,"color":"black"},{"offset":0.9833,"color":"black"},{"offset":0.9833,"color":"transparent"},{"offset":1,"color":"transparent"}]}}},
{"transform":[{"filter":"datum.year==='2015年销量' && datum.cat==='>15～40 HP'"}],"mark":{"type":"bar","fill":{"gradient":"linear","x1":0,"y1":1.02128,"x2":0.26234,"y2":-0.24481,"stops":[{"offset":0,"color":"transparent"},{"offset":0.0167,"color":"transparent"},{"offset":0.0167,"color":"black"},{"offset":0.0233,"color":"black"},{"offset":0.0233,"color":"transparent"},{"offset":0.0567,"color":"transparent"},{"offset":0.0567,"color":"black"},{"offset":0.0633,"color":"black"},{"offset":0.0633,"color":"transparent"},{"offset":0.0967,"color":"transparent"},{"offset":0.0967,"color":"black"},{"offset":0.1033,"color":"black"},{"offset":0.1033,"color":"transparent"},{"offset":0.1367,"color":"transparent"},{"offset":0.1367,"color":"black"},{"offset":0.1433,"color":"black"},{"offset":0.1433,"color":"transparent"},{"offset":0.1767,"color":"transparent"},{"offset":0.1767,"color":"black"},{"offset":0.1833,"color":"black"},{"offset":0.1833,"color":"transparent"},{"offset":0.2167,"color":"transparent"},{"offset":0.2167,"color":"black"},{"offset":0.2233,"color":"black"},{"offset":0.2233,"color":"transparent"},{"offset":0.2567,"color":"transparent"},{"offset":0.2567,"color":"black"},{"offset":0.2633,"color":"black"},{"offset":0.2633,"color":"transparent"},{"offset":0.2967,"color":"transparent"},{"offset":0.2967,"color":"black"},{"offset":0.3033,"color":"black"},{"offset":0.3033,"color":"transparent"},{"offset":0.3367,"color":"transparent"},{"offset":0.3367,"color":"black"},{"offset":0.3433,"color":"black"},{"offset":0.3433,"color":"transparent"},{"offset":0.3767,"color":"transparent"},{"offset":0.3767,"color":"black"},{"offset":0.3833,"color":"black"},{"offset":0.3833,"color":"transparent"},{"offset":0.4167,"color":"transparent"},{"offset":0.4167,"color":"black"},{"offset":0.4233,"color":"black"},{"offset":0.4233,"color":"transparent"},{"offset":0.4567,"color":"transparent"},{"offset":0.4567,"color":"black"},{"offset":0.4633,"color":"black"},{"offset":0.4633,"color":"transparent"},{"offset":0.4967,"color":"transparent"},{"offset":0.4967,"color":"black"},{"offset":0.5033,"color":"black"},{"offset":0.5033,"color":"transparent"},{"offset":0.5367,"color":"transparent"},{"offset":0.5367,"color":"black"},{"offset":0.5433,"color":"black"},{"offset":0.5433,"color":"transparent"},{"offset":0.5767,"color":"transparent"},{"offset":0.5767,"color":"black"},{"offset":0.5833,"color":"black"},{"offset":0.5833,"color":"transparent"},{"offset":0.6167,"color":"transparent"},{"offset":0.6167,"color":"black"},{"offset":0.6233,"color":"black"},{"offset":0.6233,"color":"transparent"},{"offset":0.6567,"color":"transparent"},{"offset":0.6567,"color":"black"},{"offset":0.6633,"color":"black"},{"offset":0.6633,"color":"transparent"},{"offset":0.6967,"color":"transparent"},{"offset":0.6967,"color":"black"},{"offset":0.7033,"color":"black"},{"offset":0.7033,"color":"transparent"},{"offset":0.7367,"color":"transparent"},{"offset":0.7367,"color":"black"},{"offset":0.7433,"color":"black"},{"offset":0.7433,"color":"transparent"},{"offset":0.7767,"color":"transparent"},{"offset":0.7767,"color":"black"},{"offset":0.7833,"color":"black"},{"offset":0.7833,"color":"transparent"},{"offset":0.8167,"color":"transparent"},{"offset":0.8167,"color":"black"},{"offset":0.8233,"color":"black"},{"offset":0.8233,"color":"transparent"},{"offset":0.8567,"color":"transparent"},{"offset":0.8567,"color":"black"},{"offset":0.8633,"color":"black"},{"offset":0.8633,"color":"transparent"},{"offset":0.8967,"color":"transparent"},{"offset":0.8967,"color":"black"},{"offset":0.9033,"color":"black"},{"offset":0.9033,"color":"transparent"},{"offset":0.9367,"color":"transparent"},{"offset":0.9367,"color":"black"},{"offset":0.9433,"color":"black"},{"offset":0.9433,"color":"transparent"},{"offset":0.9767,"color":"transparent"},{"offset":0.9767,"color":"black"},{"offset":0.9833,"color":"black"},{"offset":0.9833,"color":"transparent"},{"offset":1,"color":"transparent"}]}}},
{"transform":[{"filter":"datum.year==='2016年销量' && datum.cat==='>15～40 HP'"}],"mark":{"type":"bar","fill":{"gradient":"linear","x1":0,"y1":1.04327,"x2":0.32115,"y2":-0.35083,"stops":[{"offset":0,"color":"transparent"},{"offset":0.0167,"color":"transparent"},{"offset":0.0167,"color":"black"},{"offset":0.0233,"color":"black"},{"offset":0.0233,"color":"transparent"},{"offset":0.0567,"color":"transparent"},{"offset":0.0567,"color":"black"},{"offset":0.0633,"color":"black"},{"offset":0.0633,"color":"transparent"},{"offset":0.0967,"color":"transparent"},{"offset":0.0967,"color":"black"},{"offset":0.1033,"color":"black"},{"offset":0.1033,"color":"transparent"},{"offset":0.1367,"color":"transparent"},{"offset":0.1367,"color":"black"},{"offset":0.1433,"color":"black"},{"offset":0.1433,"color":"transparent"},{"offset":0.1767,"color":"transparent"},{"offset":0.1767,"color":"black"},{"offset":0.1833,"color":"black"},{"offset":0.1833,"color":"transparent"},{"offset":0.2167,"color":"transparent"},{"offset":0.2167,"color":"black"},{"offset":0.2233,"color":"black"},{"offset":0.2233,"color":"transparent"},{"offset":0.2567,"color":"transparent"},{"offset":0.2567,"color":"black"},{"offset":0.2633,"color":"black"},{"offset":0.2633,"color":"transparent"},{"offset":0.2967,"color":"transparent"},{"offset":0.2967,"color":"black"},{"offset":0.3033,"color":"black"},{"offset":0.3033,"color":"transparent"},{"offset":0.3367,"color":"transparent"},{"offset":0.3367,"color":"black"},{"offset":0.3433,"color":"black"},{"offset":0.3433,"color":"transparent"},{"offset":0.3767,"color":"transparent"},{"offset":0.3767,"color":"black"},{"offset":0.3833,"color":"black"},{"offset":0.3833,"color":"transparent"},{"offset":0.4167,"color":"transparent"},{"offset":0.4167,"color":"black"},{"offset":0.4233,"color":"black"},{"offset":0.4233,"color":"transparent"},{"offset":0.4567,"color":"transparent"},{"offset":0.4567,"color":"black"},{"offset":0.4633,"color":"black"},{"offset":0.4633,"color":"transparent"},{"offset":0.4967,"color":"transparent"},{"offset":0.4967,"color":"black"},{"offset":0.5033,"color":"black"},{"offset":0.5033,"color":"transparent"},{"offset":0.5367,"color":"transparent"},{"offset":0.5367,"color":"black"},{"offset":0.5433,"color":"black"},{"offset":0.5433,"color":"transparent"},{"offset":0.5767,"color":"transparent"},{"offset":0.5767,"color":"black"},{"offset":0.5833,"color":"black"},{"offset":0.5833,"color":"transparent"},{"offset":0.6167,"color":"transparent"},{"offset":0.6167,"color":"black"},{"offset":0.6233,"color":"black"},{"offset":0.6233,"color":"transparent"},{"offset":0.6567,"color":"transparent"},{"offset":0.6567,"color":"black"},{"offset":0.6633,"color":"black"},{"offset":0.6633,"color":"transparent"},{"offset":0.6967,"color":"transparent"},{"offset":0.6967,"color":"black"},{"offset":0.7033,"color":"black"},{"offset":0.7033,"color":"transparent"},{"offset":0.7367,"color":"transparent"},{"offset":0.7367,"color":"black"},{"offset":0.7433,"color":"black"},{"offset":0.7433,"color":"transparent"},{"offset":0.7767,"color":"transparent"},{"offset":0.7767,"color":"black"},{"offset":0.7833,"color":"black"},{"offset":0.7833,"color":"transparent"},{"offset":0.8167,"color":"transparent"},{"offset":0.8167,"color":"black"},{"offset":0.8233,"color":"black"},{"offset":0.8233,"color":"transparent"},{"offset":0.8567,"color":"transparent"},{"offset":0.8567,"color":"black"},{"offset":0.8633,"color":"black"},{"offset":0.8633,"color":"transparent"},{"offset":0.8967,"color":"transparent"},{"offset":0.8967,"color":"black"},{"offset":0.9033,"color":"black"},{"offset":0.9033,"color":"transparent"},{"offset":0.9367,"color":"transparent"},{"offset":0.9367,"color":"black"},{"offset":0.9433,"color":"black"},{"offset":0.9433,"color":"transparent"},{"offset":0.9767,"color":"transparent"},{"offset":0.9767,"color":"black"},{"offset":0.9833,"color":"black"},{"offset":0.9833,"color":"transparent"},{"offset":1,"color":"transparent"}]}}},

{"transform":[{"filter":"datum.year==='2014年销量' && datum.cat==='>15～40 HP'"}],"mark":{"type":"bar","fill":{"gradient":"linear","x1":0,"y1":-0.05031,"x2":0.27073,"y2":1.235,"stops":[{"offset":0,"color":"white"},{"offset":0.0167,"color":"white"},{"offset":0.0167,"color":"transparent"},{"offset":0.0233,"color":"transparent"},{"offset":0.0233,"color":"white"},{"offset":0.0567,"color":"white"},{"offset":0.0567,"color":"transparent"},{"offset":0.0633,"color":"transparent"},{"offset":0.0633,"color":"white"},{"offset":0.0967,"color":"white"},{"offset":0.0967,"color":"transparent"},{"offset":0.1033,"color":"transparent"},{"offset":0.1033,"color":"white"},{"offset":0.1367,"color":"white"},{"offset":0.1367,"color":"transparent"},{"offset":0.1433,"color":"transparent"},{"offset":0.1433,"color":"white"},{"offset":0.1767,"color":"white"},{"offset":0.1767,"color":"transparent"},{"offset":0.1833,"color":"transparent"},{"offset":0.1833,"color":"white"},{"offset":0.2167,"color":"white"},{"offset":0.2167,"color":"transparent"},{"offset":0.2233,"color":"transparent"},{"offset":0.2233,"color":"white"},{"offset":0.2567,"color":"white"},{"offset":0.2567,"color":"transparent"},{"offset":0.2633,"color":"transparent"},{"offset":0.2633,"color":"white"},{"offset":0.2967,"color":"white"},{"offset":0.2967,"color":"transparent"},{"offset":0.3033,"color":"transparent"},{"offset":0.3033,"color":"white"},{"offset":0.3367,"color":"white"},{"offset":0.3367,"color":"transparent"},{"offset":0.3433,"color":"transparent"},{"offset":0.3433,"color":"white"},{"offset":0.3767,"color":"white"},{"offset":0.3767,"color":"transparent"},{"offset":0.3833,"color":"transparent"},{"offset":0.3833,"color":"white"},{"offset":0.4167,"color":"white"},{"offset":0.4167,"color":"transparent"},{"offset":0.4233,"color":"transparent"},{"offset":0.4233,"color":"white"},{"offset":0.4567,"color":"white"},{"offset":0.4567,"color":"transparent"},{"offset":0.4633,"color":"transparent"},{"offset":0.4633,"color":"white"},{"offset":0.4967,"color":"white"},{"offset":0.4967,"color":"transparent"},{"offset":0.5033,"color":"transparent"},{"offset":0.5033,"color":"white"},{"offset":0.5367,"color":"white"},{"offset":0.5367,"color":"transparent"},{"offset":0.5433,"color":"transparent"},{"offset":0.5433,"color":"white"},{"offset":0.5767,"color":"white"},{"offset":0.5767,"color":"transparent"},{"offset":0.5833,"color":"transparent"},{"offset":0.5833,"color":"white"},{"offset":0.6167,"color":"white"},{"offset":0.6167,"color":"transparent"},{"offset":0.6233,"color":"transparent"},{"offset":0.6233,"color":"white"},{"offset":0.6567,"color":"white"},{"offset":0.6567,"color":"transparent"},{"offset":0.6633,"color":"transparent"},{"offset":0.6633,"color":"white"},{"offset":0.6967,"color":"white"},{"offset":0.6967,"color":"transparent"},{"offset":0.7033,"color":"transparent"},{"offset":0.7033,"color":"white"},{"offset":0.7367,"color":"white"},{"offset":0.7367,"color":"transparent"},{"offset":0.7433,"color":"transparent"},{"offset":0.7433,"color":"white"},{"offset":0.7767,"color":"white"},{"offset":0.7767,"color":"transparent"},{"offset":0.7833,"color":"transparent"},{"offset":0.7833,"color":"white"},{"offset":0.8167,"color":"white"},{"offset":0.8167,"color":"transparent"},{"offset":0.8233,"color":"transparent"},{"offset":0.8233,"color":"white"},{"offset":0.8567,"color":"white"},{"offset":0.8567,"color":"transparent"},{"offset":0.8633,"color":"transparent"},{"offset":0.8633,"color":"white"},{"offset":0.8967,"color":"white"},{"offset":0.8967,"color":"transparent"},{"offset":0.9033,"color":"transparent"},{"offset":0.9033,"color":"white"},{"offset":0.9367,"color":"white"},{"offset":0.9367,"color":"transparent"},{"offset":0.9433,"color":"transparent"},{"offset":0.9433,"color":"white"},{"offset":0.9767,"color":"white"},{"offset":0.9767,"color":"transparent"},{"offset":0.9833,"color":"transparent"},{"offset":0.9833,"color":"white"},{"offset":1,"color":"white"}]}}},
{"transform":[{"filter":"datum.year==='2015年销量' && datum.cat==='>15～40 HP'"}],"mark":{"type":"bar","fill":{"gradient":"linear","x1":0,"y1":-0.05079,"x2":0.26234,"y2":1.2153,"stops":[{"offset":0,"color":"white"},{"offset":0.0167,"color":"white"},{"offset":0.0167,"color":"transparent"},{"offset":0.0233,"color":"transparent"},{"offset":0.0233,"color":"white"},{"offset":0.0567,"color":"white"},{"offset":0.0567,"color":"transparent"},{"offset":0.0633,"color":"transparent"},{"offset":0.0633,"color":"white"},{"offset":0.0967,"color":"white"},{"offset":0.0967,"color":"transparent"},{"offset":0.1033,"color":"transparent"},{"offset":0.1033,"color":"white"},{"offset":0.1367,"color":"white"},{"offset":0.1367,"color":"transparent"},{"offset":0.1433,"color":"transparent"},{"offset":0.1433,"color":"white"},{"offset":0.1767,"color":"white"},{"offset":0.1767,"color":"transparent"},{"offset":0.1833,"color":"transparent"},{"offset":0.1833,"color":"white"},{"offset":0.2167,"color":"white"},{"offset":0.2167,"color":"transparent"},{"offset":0.2233,"color":"transparent"},{"offset":0.2233,"color":"white"},{"offset":0.2567,"color":"white"},{"offset":0.2567,"color":"transparent"},{"offset":0.2633,"color":"transparent"},{"offset":0.2633,"color":"white"},{"offset":0.2967,"color":"white"},{"offset":0.2967,"color":"transparent"},{"offset":0.3033,"color":"transparent"},{"offset":0.3033,"color":"white"},{"offset":0.3367,"color":"white"},{"offset":0.3367,"color":"transparent"},{"offset":0.3433,"color":"transparent"},{"offset":0.3433,"color":"white"},{"offset":0.3767,"color":"white"},{"offset":0.3767,"color":"transparent"},{"offset":0.3833,"color":"transparent"},{"offset":0.3833,"color":"white"},{"offset":0.4167,"color":"white"},{"offset":0.4167,"color":"transparent"},{"offset":0.4233,"color":"transparent"},{"offset":0.4233,"color":"white"},{"offset":0.4567,"color":"white"},{"offset":0.4567,"color":"transparent"},{"offset":0.4633,"color":"transparent"},{"offset":0.4633,"color":"white"},{"offset":0.4967,"color":"white"},{"offset":0.4967,"color":"transparent"},{"offset":0.5033,"color":"transparent"},{"offset":0.5033,"color":"white"},{"offset":0.5367,"color":"white"},{"offset":0.5367,"color":"transparent"},{"offset":0.5433,"color":"transparent"},{"offset":0.5433,"color":"white"},{"offset":0.5767,"color":"white"},{"offset":0.5767,"color":"transparent"},{"offset":0.5833,"color":"transparent"},{"offset":0.5833,"color":"white"},{"offset":0.6167,"color":"white"},{"offset":0.6167,"color":"transparent"},{"offset":0.6233,"color":"transparent"},{"offset":0.6233,"color":"white"},{"offset":0.6567,"color":"white"},{"offset":0.6567,"color":"transparent"},{"offset":0.6633,"color":"transparent"},{"offset":0.6633,"color":"white"},{"offset":0.6967,"color":"white"},{"offset":0.6967,"color":"transparent"},{"offset":0.7033,"color":"transparent"},{"offset":0.7033,"color":"white"},{"offset":0.7367,"color":"white"},{"offset":0.7367,"color":"transparent"},{"offset":0.7433,"color":"transparent"},{"offset":0.7433,"color":"white"},{"offset":0.7767,"color":"white"},{"offset":0.7767,"color":"transparent"},{"offset":0.7833,"color":"transparent"},{"offset":0.7833,"color":"white"},{"offset":0.8167,"color":"white"},{"offset":0.8167,"color":"transparent"},{"offset":0.8233,"color":"transparent"},{"offset":0.8233,"color":"white"},{"offset":0.8567,"color":"white"},{"offset":0.8567,"color":"transparent"},{"offset":0.8633,"color":"transparent"},{"offset":0.8633,"color":"white"},{"offset":0.8967,"color":"white"},{"offset":0.8967,"color":"transparent"},{"offset":0.9033,"color":"transparent"},{"offset":0.9033,"color":"white"},{"offset":0.9367,"color":"white"},{"offset":0.9367,"color":"transparent"},{"offset":0.9433,"color":"transparent"},{"offset":0.9433,"color":"white"},{"offset":0.9767,"color":"white"},{"offset":0.9767,"color":"transparent"},{"offset":0.9833,"color":"transparent"},{"offset":0.9833,"color":"white"},{"offset":1,"color":"white"}]}}},
{"transform":[{"filter":"datum.year==='2016年销量' && datum.cat==='>15～40 HP'"}],"mark":{"type":"bar","fill":{"gradient":"linear","x1":0,"y1":-0.01166,"x2":0.32115,"y2":1.38244,"stops":[{"offset":0,"color":"white"},{"offset":0.0167,"color":"white"},{"offset":0.0167,"color":"transparent"},{"offset":0.0233,"color":"transparent"},{"offset":0.0233,"color":"white"},{"offset":0.0567,"color":"white"},{"offset":0.0567,"color":"transparent"},{"offset":0.0633,"color":"transparent"},{"offset":0.0633,"color":"white"},{"offset":0.0967,"color":"white"},{"offset":0.0967,"color":"transparent"},{"offset":0.1033,"color":"transparent"},{"offset":0.1033,"color":"white"},{"offset":0.1367,"color":"white"},{"offset":0.1367,"color":"transparent"},{"offset":0.1433,"color":"transparent"},{"offset":0.1433,"color":"white"},{"offset":0.1767,"color":"white"},{"offset":0.1767,"color":"transparent"},{"offset":0.1833,"color":"transparent"},{"offset":0.1833,"color":"white"},{"offset":0.2167,"color":"white"},{"offset":0.2167,"color":"transparent"},{"offset":0.2233,"color":"transparent"},{"offset":0.2233,"color":"white"},{"offset":0.2567,"color":"white"},{"offset":0.2567,"color":"transparent"},{"offset":0.2633,"color":"transparent"},{"offset":0.2633,"color":"white"},{"offset":0.2967,"color":"white"},{"offset":0.2967,"color":"transparent"},{"offset":0.3033,"color":"transparent"},{"offset":0.3033,"color":"white"},{"offset":0.3367,"color":"white"},{"offset":0.3367,"color":"transparent"},{"offset":0.3433,"color":"transparent"},{"offset":0.3433,"color":"white"},{"offset":0.3767,"color":"white"},{"offset":0.3767,"color":"transparent"},{"offset":0.3833,"color":"transparent"},{"offset":0.3833,"color":"white"},{"offset":0.4167,"color":"white"},{"offset":0.4167,"color":"transparent"},{"offset":0.4233,"color":"transparent"},{"offset":0.4233,"color":"white"},{"offset":0.4567,"color":"white"},{"offset":0.4567,"color":"transparent"},{"offset":0.4633,"color":"transparent"},{"offset":0.4633,"color":"white"},{"offset":0.4967,"color":"white"},{"offset":0.4967,"color":"transparent"},{"offset":0.5033,"color":"transparent"},{"offset":0.5033,"color":"white"},{"offset":0.5367,"color":"white"},{"offset":0.5367,"color":"transparent"},{"offset":0.5433,"color":"transparent"},{"offset":0.5433,"color":"white"},{"offset":0.5767,"color":"white"},{"offset":0.5767,"color":"transparent"},{"offset":0.5833,"color":"transparent"},{"offset":0.5833,"color":"white"},{"offset":0.6167,"color":"white"},{"offset":0.6167,"color":"transparent"},{"offset":0.6233,"color":"transparent"},{"offset":0.6233,"color":"white"},{"offset":0.6567,"color":"white"},{"offset":0.6567,"color":"transparent"},{"offset":0.6633,"color":"transparent"},{"offset":0.6633,"color":"white"},{"offset":0.6967,"color":"white"},{"offset":0.6967,"color":"transparent"},{"offset":0.7033,"color":"transparent"},{"offset":0.7033,"color":"white"},{"offset":0.7367,"color":"white"},{"offset":0.7367,"color":"transparent"},{"offset":0.7433,"color":"transparent"},{"offset":0.7433,"color":"white"},{"offset":0.7767,"color":"white"},{"offset":0.7767,"color":"transparent"},{"offset":0.7833,"color":"transparent"},{"offset":0.7833,"color":"white"},{"offset":0.8167,"color":"white"},{"offset":0.8167,"color":"transparent"},{"offset":0.8233,"color":"transparent"},{"offset":0.8233,"color":"white"},{"offset":0.8567,"color":"white"},{"offset":0.8567,"color":"transparent"},{"offset":0.8633,"color":"transparent"},{"offset":0.8633,"color":"white"},{"offset":0.8967,"color":"white"},{"offset":0.8967,"color":"transparent"},{"offset":0.9033,"color":"transparent"},{"offset":0.9033,"color":"white"},{"offset":0.9367,"color":"white"},{"offset":0.9367,"color":"transparent"},{"offset":0.9433,"color":"transparent"},{"offset":0.9433,"color":"white"},{"offset":0.9767,"color":"white"},{"offset":0.9767,"color":"transparent"},{"offset":0.9833,"color":"transparent"},{"offset":0.9833,"color":"white"},{"offset":1,"color":"white"}]}}},

{"transform":[{"filter":"datum.year==='2014年销量' && datum.cat==='>40～80 HP'"}],"mark":{"type":"bar","fill":{"gradient":"linear","x1":-0.2234,"y1":0,"x2":1.3061,"y2":0,"stops":[{"offset":0,"color":"transparent"},{"offset":0.0744,"color":"transparent"},{"offset":0.0744,"color":"black"},{"offset":0.0922,"color":"black"},{"offset":0.0922,"color":"transparent"},{"offset":0.2411,"color":"transparent"},{"offset":0.2411,"color":"black"},{"offset":0.2589,"color":"black"},{"offset":0.2589,"color":"transparent"},{"offset":0.4078,"color":"transparent"},{"offset":0.4078,"color":"black"},{"offset":0.4256,"color":"black"},{"offset":0.4256,"color":"transparent"},{"offset":0.5744,"color":"transparent"},{"offset":0.5744,"color":"black"},{"offset":0.5922,"color":"black"},{"offset":0.5922,"color":"transparent"},{"offset":0.7411,"color":"transparent"},{"offset":0.7411,"color":"black"},{"offset":0.7589,"color":"black"},{"offset":0.7589,"color":"transparent"},{"offset":0.9078,"color":"transparent"},{"offset":0.9078,"color":"black"},{"offset":0.9256,"color":"black"},{"offset":0.9256,"color":"transparent"},{"offset":1,"color":"transparent"}]}}},
{"transform":[{"filter":"datum.year==='2015年销量' && datum.cat==='>40～80 HP'"}],"mark":{"type":"bar","fill":{"gradient":"linear","x1":-0.0534,"y1":0,"x2":1.4761,"y2":0,"stops":[{"offset":0,"color":"transparent"},{"offset":0.0744,"color":"transparent"},{"offset":0.0744,"color":"black"},{"offset":0.0922,"color":"black"},{"offset":0.0922,"color":"transparent"},{"offset":0.2411,"color":"transparent"},{"offset":0.2411,"color":"black"},{"offset":0.2589,"color":"black"},{"offset":0.2589,"color":"transparent"},{"offset":0.4078,"color":"transparent"},{"offset":0.4078,"color":"black"},{"offset":0.4256,"color":"black"},{"offset":0.4256,"color":"transparent"},{"offset":0.5744,"color":"transparent"},{"offset":0.5744,"color":"black"},{"offset":0.5922,"color":"black"},{"offset":0.5922,"color":"transparent"},{"offset":0.7411,"color":"transparent"},{"offset":0.7411,"color":"black"},{"offset":0.7589,"color":"black"},{"offset":0.7589,"color":"transparent"},{"offset":0.9078,"color":"transparent"},{"offset":0.9078,"color":"black"},{"offset":0.9256,"color":"black"},{"offset":0.9256,"color":"transparent"},{"offset":1,"color":"transparent"}]}}},
{"transform":[{"filter":"datum.year==='2016年销量' && datum.cat==='>40～80 HP'"}],"mark":{"type":"bar","fill":{"gradient":"linear","x1":-0.1383,"y1":0,"x2":1.3912,"y2":0,"stops":[{"offset":0,"color":"transparent"},{"offset":0.0744,"color":"transparent"},{"offset":0.0744,"color":"black"},{"offset":0.0922,"color":"black"},{"offset":0.0922,"color":"transparent"},{"offset":0.2411,"color":"transparent"},{"offset":0.2411,"color":"black"},{"offset":0.2589,"color":"black"},{"offset":0.2589,"color":"transparent"},{"offset":0.4078,"color":"transparent"},{"offset":0.4078,"color":"black"},{"offset":0.4256,"color":"black"},{"offset":0.4256,"color":"transparent"},{"offset":0.5744,"color":"transparent"},{"offset":0.5744,"color":"black"},{"offset":0.5922,"color":"black"},{"offset":0.5922,"color":"transparent"},{"offset":0.7411,"color":"transparent"},{"offset":0.7411,"color":"black"},{"offset":0.7589,"color":"black"},{"offset":0.7589,"color":"transparent"},{"offset":0.9078,"color":"transparent"},{"offset":0.9078,"color":"black"},{"offset":0.9256,"color":"black"},{"offset":0.9256,"color":"transparent"},{"offset":1,"color":"transparent"}]}}},

{"mark":{"type":"bar","fillOpacity":0,"stroke":"black","strokeWidth":1.5}}
]
}
